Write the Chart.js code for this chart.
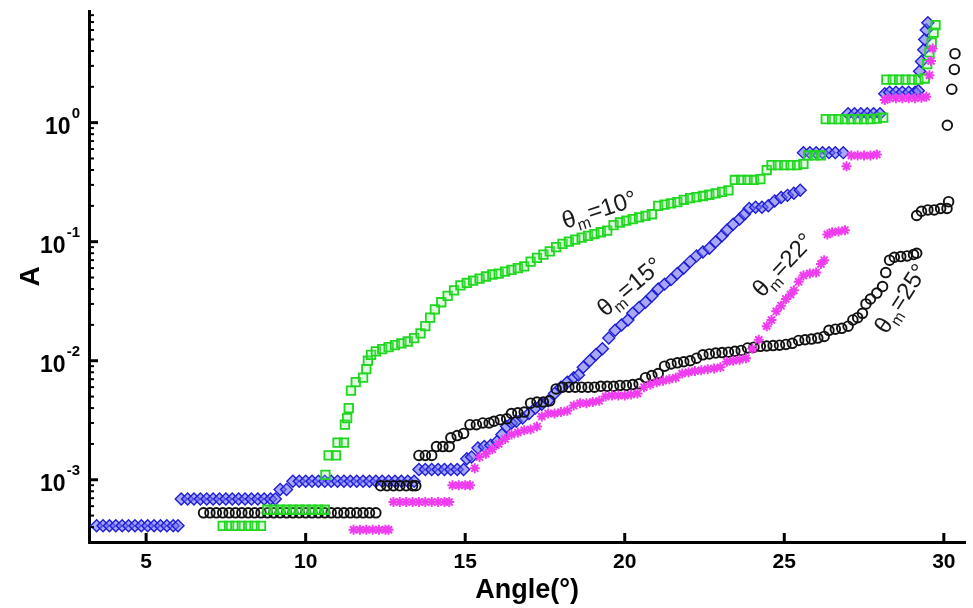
<!DOCTYPE html>
<html>
<head>
<meta charset="utf-8">
<script src="https://cdn.jsdelivr.net/npm/chart.js@4.4.1/dist/chart.umd.min.js"></script>
<style>
html,body{margin:0;padding:0;background:#fff;}
canvas{display:block;}
</style>
</head>
<body>
<canvas id="c" width="973" height="608"></canvas>
<script>
// ---------- data ----------
const xTicks = [5, 10, 15, 20, 25, 30];
const yDecades = [0.001, 0.01, 0.1, 1];
const xTitle = 'Angle(°)';
const yTitle = 'A';

// theta_m = 10° (green squares)
const t10X = [7.4,7.6,7.8,8.0,8.2,8.4,8.6,
  8.8,9.0,9.2,9.4,9.6,9.8,10.0,10.2,10.4,10.6,
  10.62,10.72,10.95,11.0,11.2,11.23,11.3,11.35,11.42,11.57,11.8,11.9,11.95,12.05,12.2,12.4,12.6,12.8,13.0,13.2,13.4,13.6,13.75,13.9,
  14.05,14.25,14.45,14.65,14.85,15.05,15.25,15.45,15.65,15.85,16.05,16.25,16.45,16.65,16.85,17.05,17.25,17.45,17.65,17.85,
  18.05,18.25,18.45,18.65,18.85,19.05,19.25,19.45,19.65,19.85,20.05,20.25,20.45,20.65,20.85,21.05,21.25,21.45,21.65,21.85,
  22.05,22.25,22.45,22.65,22.85,23.05,23.25,23.45,23.65,23.85,24.05,24.25,24.45,24.6,24.8,25.0,25.2,25.4,25.6,25.75,25.95,26.15,
  26.3,26.5,26.7,26.9,27.1,27.3,27.5,27.7,27.9,28.1,28.2,28.4,28.6,28.8,29.0,29.2,29.4,29.48,29.55,29.62,29.68,29.74];
const t10Y = [4.1e-4,4.1e-4,4.1e-4,4.1e-4,4.1e-4,4.1e-4,4.1e-4,
  5.6e-4,5.6e-4,5.6e-4,5.6e-4,5.6e-4,5.6e-4,5.6e-4,5.6e-4,5.6e-4,5.6e-4,
  1.1e-3,1.6e-3,1.6e-3,2.05e-3,2.05e-3,2.9e-3,3.3e-3,4.0e-3,5.6e-3,6.6e-3,7.2e-3,8.5e-3,1.0e-2,1.12e-2,1.2e-2,1.25e-2,1.3e-2,1.35e-2,1.4e-2,1.45e-2,1.55e-2,1.7e-2,1.95e-2,2.3e-2,
  2.7e-2,3.1e-2,3.5e-2,3.9e-2,4.3e-2,4.5e-2,4.7e-2,4.9e-2,5.1e-2,5.3e-2,5.4e-2,5.6e-2,5.8e-2,6.0e-2,6.2e-2,6.8e-2,7.3e-2,7.8e-2,8.3e-2,9.0e-2,
  0.096,0.1,0.104,0.108,0.112,0.116,0.12,0.124,0.138,0.145,0.15,0.155,0.16,0.165,0.17,0.2,0.205,0.21,0.215,0.225,
  0.232,0.237,0.242,0.248,0.255,0.262,0.27,0.33,0.33,0.33,0.33,0.335,0.4,0.44,0.44,0.44,0.44,0.44,0.45,0.53,0.53,0.53,
  1.07,1.07,1.07,1.07,1.07,1.07,1.07,1.07,1.08,1.1,2.3,2.3,2.3,2.3,2.3,2.3,2.35,3.1,3.9,4.7,5.7,6.6];

// theta_m = 15° (blue diamonds)
const t15X = [3.45,3.65,3.85,4.05,4.25,4.45,4.65,4.85,5.05,5.25,5.45,5.65,5.85,6.0,
  6.1,6.3,6.5,6.7,6.9,7.1,7.3,7.5,7.7,7.9,8.1,8.3,8.5,8.7,8.9,9.05,
  9.2,9.4,
  9.6,9.8,10.0,10.2,10.4,10.6,10.8,11.0,11.2,11.4,11.6,11.8,12.0,12.2,12.4,12.6,12.8,13.0,13.2,13.4,
  13.55,13.75,13.95,14.15,14.35,14.55,14.75,14.95,
  15.05,15.2,15.4,15.6,15.8,16.0,16.15,16.3,16.45,16.6,16.8,17.0,17.2,17.4,17.6,17.8,18.0,18.2,18.4,18.55,
  18.7,18.9,19.1,19.3,19.5,19.7,19.9,20.1,20.25,20.45,20.65,20.85,21.05,21.25,21.45,21.65,21.85,22.05,22.25,22.45,22.65,
  22.85,23.05,23.2,23.4,23.6,23.75,23.9,24.1,24.3,24.5,24.7,24.9,25.1,25.3,25.5,
  25.6,25.8,26.0,26.2,26.4,26.6,26.85,27.0,27.2,27.4,27.6,27.8,28.0,
  28.15,28.3,28.5,28.7,28.9,29.1,29.2,29.24,29.3,29.37,29.4,29.45,29.5];
const t15Y = [4.1e-4,4.1e-4,4.1e-4,4.1e-4,4.1e-4,4.1e-4,4.1e-4,4.1e-4,4.1e-4,4.1e-4,4.1e-4,4.1e-4,4.1e-4,4.1e-4,
  6.9e-4,6.9e-4,6.9e-4,6.9e-4,6.9e-4,6.9e-4,6.9e-4,6.9e-4,6.9e-4,6.9e-4,6.9e-4,6.9e-4,6.9e-4,6.9e-4,6.9e-4,6.9e-4,
  8.3e-4,8.3e-4,
  9.7e-4,9.7e-4,9.7e-4,9.7e-4,9.7e-4,9.7e-4,9.7e-4,9.7e-4,9.7e-4,9.7e-4,9.7e-4,9.7e-4,9.7e-4,9.7e-4,9.7e-4,9.7e-4,9.7e-4,9.7e-4,9.7e-4,9.7e-4,
  1.22e-3,1.22e-3,1.22e-3,1.22e-3,1.22e-3,1.22e-3,1.22e-3,1.22e-3,
  1.5e-3,1.55e-3,1.85e-3,1.9e-3,1.95e-3,2.1e-3,2.4e-3,2.8e-3,3.0e-3,3.1e-3,3.3e-3,3.6e-3,4.0e-3,4.3e-3,4.6e-3,5.3e-3,6.0e-3,6.6e-3,7.2e-3,7.6e-3,
  8.8e-3,1.0e-2,1.13e-2,1.26e-2,1.55e-2,1.8e-2,2.0e-2,2.2e-2,2.5e-2,2.8e-2,3.1e-2,3.5e-2,4.0e-2,4.4e-2,4.8e-2,5.4e-2,6.0e-2,6.8e-2,7.6e-2,8.2e-2,8.8e-2,
  0.1,0.112,0.125,0.14,0.155,0.17,0.19,0.195,0.195,0.2,0.22,0.235,0.245,0.255,0.27,
  0.56,0.56,0.56,0.56,0.56,0.56,0.56,1.19,1.19,1.19,1.19,1.19,1.19,
  1.75,1.8,1.8,1.8,1.8,1.8,1.85,2.7,3.27,4.1,5.0,6.0,6.9];

// theta_m = 22° (magenta stars)
const t22X = [11.5,11.7,11.9,12.1,12.3,12.5,12.6,
  12.75,12.95,13.15,13.35,13.55,13.75,13.95,14.15,14.35,14.5,
  14.6,14.8,15.0,15.15,
  15.3,15.45,15.65,15.85,16.05,16.25,16.45,16.65,16.85,17.05,17.25,17.4,17.6,17.8,18.0,18.2,18.4,18.6,18.8,19.0,19.2,
  19.4,19.6,19.8,20.0,20.2,20.4,20.6,20.8,21.0,21.2,21.4,21.6,21.8,22.0,22.2,22.4,22.6,22.8,23.0,23.2,23.4,23.6,23.8,
  24.0,24.2,24.45,24.6,24.75,24.9,25.05,25.2,25.3,25.45,25.6,25.8,26.0,26.15,26.25,26.35,26.5,26.7,26.9,
  26.95,27.1,27.3,27.5,27.7,27.9,28.15,28.3,28.5,28.7,28.9,29.1,29.3,29.45,29.55,29.6,29.65];
const t22Y = [3.8e-4,3.8e-4,3.8e-4,3.8e-4,3.8e-4,3.8e-4,3.8e-4,
  6.5e-4,6.5e-4,6.5e-4,6.5e-4,6.5e-4,6.5e-4,6.5e-4,6.5e-4,6.5e-4,6.5e-4,
  9.0e-4,9.0e-4,9.0e-4,9.0e-4,
  1.25e-3,1.55e-3,1.65e-3,1.8e-3,2.0e-3,2.2e-3,2.4e-3,2.5e-3,2.6e-3,2.65e-3,2.8e-3,3.4e-3,3.6e-3,3.6e-3,3.7e-3,3.8e-3,4.2e-3,4.4e-3,4.4e-3,4.5e-3,4.6e-3,
  5.0e-3,5.1e-3,5.1e-3,5.1e-3,5.2e-3,5.3e-3,6.0e-3,6.3e-3,6.6e-3,6.8e-3,7.0e-3,7.2e-3,7.8e-3,8.0e-3,8.2e-3,8.3e-3,8.5e-3,8.6e-3,8.8e-3,9.8e-3,1.0e-2,1.02e-2,1.05e-2,
  1.26e-2,1.5e-2,1.95e-2,2.2e-2,2.6e-2,2.9e-2,3.3e-2,3.6e-2,3.9e-2,4.6e-2,5.2e-2,5.4e-2,5.5e-2,6.5e-2,7.0e-2,0.115,0.12,0.122,0.125,
  0.43,0.53,0.53,0.53,0.53,0.54,1.55,1.6,1.6,1.6,1.6,1.6,1.62,1.65,2.5,3.3,4.2];

// theta_m = 25° (black circles)
const t25X = [6.8,7.0,7.2,7.4,7.6,7.8,8.0,8.2,8.4,8.6,8.8,9.0,9.2,9.4,9.6,9.8,10.0,10.2,10.4,10.6,10.8,11.0,11.2,11.4,11.6,11.8,12.0,12.2,
  12.35,12.55,12.75,12.95,13.15,13.35,13.45,
  13.55,13.75,13.95,14.1,14.3,14.5,14.55,14.75,14.95,15.15,15.35,15.55,15.75,15.9,16.1,16.3,16.45,16.65,16.85,
  17.05,17.25,17.45,17.65,17.85,18.05,18.25,18.45,18.65,18.85,19.05,19.25,19.45,19.65,19.85,20.05,20.25,20.45,
  20.65,20.85,21.05,21.25,21.45,21.65,21.85,22.05,22.25,22.45,22.65,22.85,23.05,23.25,23.45,23.65,23.85,24.05,24.25,24.45,24.65,24.85,
  25.05,25.25,25.45,25.65,25.85,26.05,26.25,26.4,26.6,26.8,27.0,27.15,27.3,27.45,27.56,27.7,27.9,28.08,28.18,
  28.3,28.45,28.65,28.85,29.05,29.15,29.15,29.3,29.5,29.7,29.9,30.1,30.15,30.11,30.25,30.33,30.35];
const t25Y = [5.27e-4,5.27e-4,5.27e-4,5.27e-4,5.27e-4,5.27e-4,5.27e-4,5.27e-4,5.27e-4,5.27e-4,5.27e-4,5.27e-4,5.27e-4,5.27e-4,5.27e-4,5.27e-4,5.27e-4,5.27e-4,5.27e-4,5.27e-4,5.27e-4,5.27e-4,5.27e-4,5.27e-4,5.27e-4,5.27e-4,5.27e-4,5.27e-4,
  8.9e-4,8.9e-4,8.9e-4,8.9e-4,8.9e-4,8.9e-4,8.9e-4,
  1.6e-3,1.6e-3,1.6e-3,1.9e-3,1.9e-3,1.9e-3,2.25e-3,2.35e-3,2.45e-3,2.9e-3,2.9e-3,3.0e-3,3.0e-3,3.1e-3,3.2e-3,3.25e-3,3.6e-3,3.65e-3,3.7e-3,
  4.4e-3,4.5e-3,4.5e-3,4.6e-3,5.8e-3,6.0e-3,6.0e-3,6.0e-3,6.0e-3,6.0e-3,6.0e-3,6.1e-3,6.1e-3,6.1e-3,6.2e-3,6.2e-3,6.3e-3,6.4e-3,
  7.2e-3,7.5e-3,7.8e-3,9.0e-3,9.4e-3,9.6e-3,9.8e-3,1.0e-2,1.05e-2,1.12e-2,1.14e-2,1.16e-2,1.17e-2,1.18e-2,1.2e-2,1.22e-2,1.28e-2,1.3e-2,1.32e-2,1.33e-2,1.34e-2,1.35e-2,
  1.37e-2,1.4e-2,1.48e-2,1.5e-2,1.52e-2,1.55e-2,1.6e-2,1.8e-2,1.84e-2,1.87e-2,1.95e-2,2.2e-2,2.3e-2,2.5e-2,3.0e-2,3.3e-2,3.7e-2,4.2e-2,5.5e-2,
  7.0e-2,7.4e-2,7.5e-2,7.6e-2,7.8e-2,8.0e-2,0.166,0.18,0.185,0.185,0.19,0.19,0.217,0.95,1.91,2.8,3.8];

// curve annotations (theta_m values) and where they sit in data space
const curveNames = ['=10°', '=15°', '=22°', '=25°'];
const curveNameX = [19.2, 20.15, 24.95, 28.65];
const curveNameY = [0.186, 0.0419, 0.0638, 0.0333];
const curveNameAngle = [-18, -40, -47, -57];

// ---------- chart ----------
const pts = (xs, ys) => xs.map((x, i) => ({x: x, y: ys[i]}));
const FAM = "'Liberation Sans', Arial, sans-serif";

const tickPlugin = {
  id: 'innerTicks',
  afterDatasetsDraw(chart) {
    const ctx = chart.ctx, xs = chart.scales.x, ys = chart.scales.y, ca = chart.chartArea;
    ctx.save();
    ctx.strokeStyle = '#000';
    ctx.lineCap = 'butt';
    for (let e = -4; e <= 1; e++) {
      for (let k = 1; k <= 9; k++) {
        const v = k * Math.pow(10, e);
        if (v < ys.min || v > ys.max) continue;
        const p = ys.getPixelForValue(v);
        ctx.lineWidth = k === 1 ? 3 : 2;
        ctx.beginPath();
        ctx.moveTo(ca.left, p);
        ctx.lineTo(ca.left + (k === 1 ? 9 : 5), p);
        ctx.stroke();
      }
    }
    ctx.lineWidth = 3;
    xTicks.forEach(v => {
      const p = xs.getPixelForValue(v);
      ctx.beginPath();
      ctx.moveTo(p, ca.bottom);
      ctx.lineTo(p, ca.bottom - 9);
      ctx.stroke();
    });
    // y tick labels: 10 with a raised exponent
    ctx.fillStyle = '#000';
    ctx.textAlign = 'right';
    ctx.textBaseline = 'alphabetic';
    yDecades.forEach(v => {
      const p = ys.getPixelForValue(v);
      const ex = String(Math.round(Math.log10(v)));
      ctx.font = "bold 15px 'Liberation Sans', Arial, sans-serif";
      const we = ctx.measureText(ex).width;
      ctx.fillText(ex, ca.left - 9, p - 5);
      ctx.font = "bold 23px 'Liberation Sans', Arial, sans-serif";
      ctx.fillText('10', ca.left - 10 - we, p + 11);
    });
    // curve labels
    ctx.fillStyle = '#1a1a1a';
    ctx.textAlign = 'left';
    curveNames.forEach((t, i) => {
      const px = xs.getPixelForValue(curveNameX[i]);
      const py = ys.getPixelForValue(curveNameY[i]);
      ctx.save();
      ctx.translate(px, py);
      ctx.rotate(curveNameAngle[i] * Math.PI / 180);
      ctx.font = "24px 'Liberation Sans', Arial, sans-serif";
      const w1 = ctx.measureText('θ').width;
      const w3 = ctx.measureText(t).width;
      ctx.font = "16px 'Liberation Sans', Arial, sans-serif";
      const w2 = ctx.measureText('m').width;
      const x0 = -(w1 + w2 + w3) / 2;
      ctx.font = "24px 'Liberation Sans', Arial, sans-serif";
      ctx.fillText('θ', x0, 8);
      ctx.font = "16px 'Liberation Sans', Arial, sans-serif";
      ctx.fillText('m', x0 + w1, 14);
      ctx.font = "24px 'Liberation Sans', Arial, sans-serif";
      ctx.fillText(t, x0 + w1 + w2, 8);
      ctx.restore();
    });
    ctx.restore();
  }
};

new Chart(document.getElementById('c'), {
  type: 'scatter',
  data: {
    datasets: [
      { label: 'θm=22°', data: pts(t22X, t22Y), order: 0, pointStyle: 'star', pointRadius: 5,
        borderColor: 'rgb(238,60,238)', backgroundColor: 'rgb(238,60,238)', borderWidth: 2 },
      { label: 'θm=10°', data: pts(t10X, t10Y), order: 1, pointStyle: 'rect', pointRadius: 6,
        borderColor: 'rgb(30,215,30)', backgroundColor: 'rgba(140,235,140,0.25)', borderWidth: 1.8 },
      { label: 'θm=25°', data: pts(t25X, t25Y), order: 2, pointStyle: 'circle', pointRadius: 4.8,
        borderColor: '#111', backgroundColor: 'rgba(255,255,255,0)', borderWidth: 1.9 },
      { label: 'θm=15°', data: pts(t15X, t15Y), order: 3, pointStyle: 'rectRot', pointRadius: 6,
        borderColor: 'rgb(30,30,215)', backgroundColor: 'rgba(110,110,240,0.6)', borderWidth: 1.4 }
    ]
  },
  options: {
    responsive: false,
    animation: false,
    clip: false,
    layout: { padding: { top: 11, right: 0, left: 0, bottom: 0 } },
    plugins: { legend: { display: false }, tooltip: { enabled: false } },
    scales: {
      x: {
        type: 'linear', min: 3.21, max: 30.67,
        afterBuildTicks: s => { s.ticks = xTicks.map(v => ({value: v})); },
        afterFit: s => { s.height = 66; s.paddingLeft = 0; s.paddingRight = 0; },
        grid: { display: false, drawTicks: false },
        border: { display: true, color: '#000', width: 3 },
        ticks: { autoSkip: false, maxRotation: 0, padding: 8, color: '#000',
                 font: { family: FAM, size: 21, weight: 'bold' } },
        title: { display: true, text: xTitle, color: '#000', padding: { top: 0, bottom: 1 },
                 font: { family: FAM, size: 27, weight: 'bold' } }
      },
      y: {
        type: 'logarithmic', min: 3.4e-4, max: 8.67,
        afterBuildTicks: s => { s.ticks = yDecades.map(v => ({value: v})); },
        afterFit: s => { s.width = 89; s.paddingTop = 0; s.paddingBottom = 0; },
        grid: { display: false, drawTicks: false },
        border: { display: true, color: '#000', width: 3 },
        ticks: { display: false },
        title: { display: true, text: yTitle, color: '#000', padding: { top: 14, bottom: 0 },
                 font: { family: FAM, size: 28, weight: 'bold' } }
      }
    }
  },
  plugins: [tickPlugin]
});
</script>
</body>
</html>
